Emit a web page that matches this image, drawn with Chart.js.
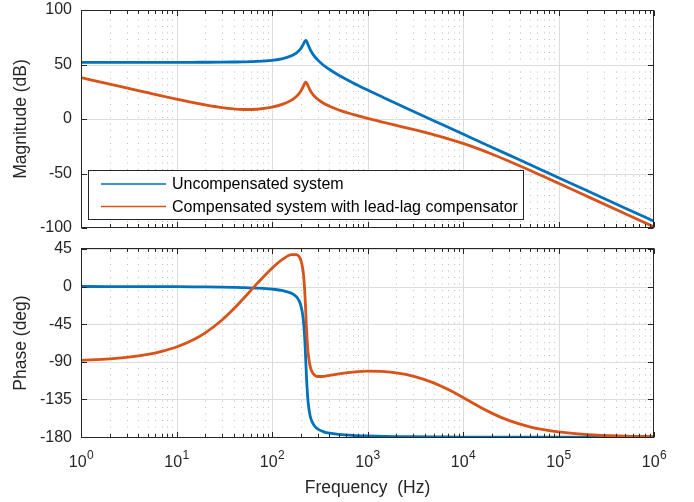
<!DOCTYPE html>
<html>
<head>
<meta charset="utf-8">
<script src="https://cdn.jsdelivr.net/npm/chart.js@4.4.1/dist/chart.umd.min.js"></script>
<style>
html,body{margin:0;padding:0;background:#fff;}
#wrap{position:relative;width:694px;height:502px;overflow:hidden;background:#fff;}
canvas{position:absolute;left:0;}
#magChart{top:0;}
#phaseChart{top:240px;}
</style>
</head>
<body>
<div id="wrap">
<canvas id="magChart" width="694" height="240"></canvas>
<canvas id="phaseChart" width="694" height="262"></canvas>
</div>
<script>
// ---------------- data ----------------
const freqHz = [1,2,3,5,7,10,15,20,30,40,50,70,100,130,160,180,190,200,210,215,220,223,226,229,232,236,240,250,260,280,300,350,400,500,700,1000,1500,2000,3000,5000,7000,10000,15000,20000,30000,50000,70000,100000,200000,500000,1000000];

const magUncompensated = [52.0,52.0,52.0,52.0,52.0,52.0,52.04,52.07,52.15,52.28,52.43,52.87,53.88,55.46,57.96,60.54,62.31,64.61,67.64,69.43,71.13,71.82,72.0,71.59,70.72,69.19,67.59,64.06,61.28,57.21,54.23,49.03,45.39,40.19,33.32,26.62,19.32,14.23,7.13,-1.78,-7.63,-13.83,-20.88,-25.88,-32.92,-41.79,-47.64,-53.84,-65.88,-81.79,-93.84];

const magCompensated = [38.0,32.0,28.5,24.1,21.2,18.2,15.0,12.9,10.4,9.2,8.7,8.95,10.8,13.6,17.3,20.7,22.8,25.5,28.9,30.8,32.7,33.5,33.75,33.4,32.7,31.3,29.8,26.6,24.1,20.6,18.2,14.2,11.65,8.3,4.3,0.6,-3.2,-5.86,-9.6,-14.6,-18.2,-22.4,-27.85,-32.1,-38.55,-47.07,-52.82,-58.97,-70.97,-86.86,-98.91];

const phaseUncompensated = [0,-0.05,-0.08,-0.13,-0.18,-0.25,-0.38,-0.51,-0.77,-1.04,-1.33,-1.96,-3.15,-4.91,-8.08,-12.29,-16.0,-22.2,-34.2,-45.0,-61.7,-75.0,-90,-104.8,-117.6,-130.9,-140.3,-153.7,-160.4,-167.0,-170.1,-173.7,-175.3,-176.7,-177.9,-178.6,-179.1,-179.3,-179.5,-179.7,-179.8,-179.9,-180,-180,-180,-180,-180,-180,-180,-180,-180];

const phaseCompensated = [-88.2,-86.4,-84.6,-81.1,-77.5,-72.3,-63.7,-55.4,-40.0,-26.4,-14.7,3.7,21.9,32.7,38.1,38.2,36.3,31.8,21.3,11.2,-4.8,-17.7,-32.3,-46.7,-59.2,-72.0,-81.5,-94.5,-101.0,-106.0,-107.5,-107.3,-106.2,-104.3,-102.3,-101.2,-101.6,-103.1,-107.0,-115.4,-123.1,-132.6,-144.0,-151.3,-159.9,-167.6,-171.1,-173.7,-176.9,-178.7,-179.4];

const seriesLabels = ['Uncompensated system','Compensated system with lead-lag compensator'];
const magTicks = [-100,-50,0,50,100];
const phaseTicks = [-180,-135,-90,-45,0,45];
const freqDecades = [1,10,100,1000,10000,100000,1000000];
const decadeExponents = ['0','1','2','3','4','5','6'];
const xAxisTitle = 'Frequency  (Hz)';
const magAxisTitle = 'Magnitude (dB)';
const phaseAxisTitle = 'Phase (deg)';

// ---------------- style ----------------
const FONT = '"Liberation Sans", Arial, Helvetica, sans-serif';
const AXC = '#262626';
const BLUE = '#0072BD';
const ORANGE = '#D95319';
const minorMult = [2,3,4,5,6,7,8,9];

function pts(ys){ return freqHz.map((f,i)=>({x:f,y:ys[i]})); }

function hline(ctx,x1,x2,y){ctx.beginPath();ctx.moveTo(x1,y);ctx.lineTo(x2,y);ctx.stroke();}
function vline(ctx,x,y1,y2){ctx.beginPath();ctx.moveTo(x,y1);ctx.lineTo(x,y2);ctx.stroke();}

const axesPlugin = {
  id:'matlabAxes',
  beforeDatasetsDraw(chart){
    const {ctx, chartArea:a, scales:{x,y}} = chart;
    ctx.save();
    ctx.beginPath(); ctx.rect(a.left,a.top,a.right-a.left,a.bottom-a.top); ctx.clip();
    // minor dotted grid
    ctx.strokeStyle = '#bdbdbd'; ctx.lineWidth = 1; ctx.setLineDash([1,5.5]);
    for (let k=0;k<freqDecades.length-1;k++){
      for (const m of minorMult){
        const px = Math.round(x.getPixelForValue(freqDecades[k]*m))+0.5;
        vline(ctx,px,a.top+3,a.bottom);
      }
    }
    ctx.setLineDash([]);
    // major grid
    ctx.strokeStyle = '#dcdcdc'; ctx.lineWidth = 1;
    for (const d of freqDecades){
      const px = Math.round(x.getPixelForValue(d))+0.5;
      vline(ctx,px,a.top,a.bottom);
    }
    for (const t of chart.options.scales.y.tickValues){
      const py = Math.round(y.getPixelForValue(t))+0.5;
      hline(ctx,a.left,a.right,py);
    }
    ctx.restore();
  },
  afterDatasetsDraw(chart){
    const {ctx, chartArea:a, scales:{x,y}} = chart;
    const L = Math.round(a.left)+0.5, R = Math.round(a.right)-0.5, T = Math.round(a.top)+0.5, B = Math.round(a.bottom)-0.5;
    ctx.save();
    ctx.strokeStyle = AXC; ctx.lineWidth = 1;
    ctx.strokeRect(L,T,R-L,B-T);
    const majLen = 5.5, minLen = 3.5;
    for (let k=0;k<freqDecades.length;k++){
      const px = Math.round(x.getPixelForValue(freqDecades[k]))+0.5;
      vline(ctx,px,B,B-majLen); vline(ctx,px,T,T+majLen);
      if (k<freqDecades.length-1){
        for (const m of minorMult){
          const mx = Math.round(x.getPixelForValue(freqDecades[k]*m))+0.5;
          vline(ctx,mx,B,B-minLen); vline(ctx,mx,T,T+minLen);
        }
      }
    }
    for (const t of chart.options.scales.y.tickValues){
      const py = Math.round(y.getPixelForValue(t))+0.5;
      hline(ctx,L,L+majLen,py); hline(ctx,R,R-majLen,py);
    }
    ctx.restore();
  }
};

const legendPlugin = {
  id:'bodeLegend',
  afterDraw(chart){
    if (!chart.options.plugins.bodeLegend || !chart.options.plugins.bodeLegend.show) return;
    const ctx = chart.ctx;
    ctx.save();
    ctx.fillStyle = '#fff';
    ctx.fillRect(88.5,170.5,435,49);
    ctx.strokeStyle = AXC; ctx.lineWidth = 1;
    ctx.strokeRect(88.5,170.5,435,49);
    [0,1].forEach((i,row)=>{
      const ds = chart.data.datasets[i];
      const yy = 184 + row*22.5;
      ctx.strokeStyle = ds.borderColor; ctx.lineWidth = 1.6;
      hline(ctx,101,166,yy);
      ctx.fillStyle = '#000';
      ctx.font = '16px '+FONT;
      ctx.textBaseline = 'middle';
      ctx.textAlign = 'left';
      ctx.fillText(ds.label,172,yy+1);
    });
    ctx.restore();
  }
};

const xLabelPlugin = {
  id:'decadeLabels',
  afterDraw(chart){
    if (!chart.options.plugins.decadeLabels || !chart.options.plugins.decadeLabels.show) return;
    const {ctx, scales:{x}} = chart;
    const baseY = chart.chartArea.bottom + 29;
    ctx.save();
    ctx.fillStyle = AXC;
    ctx.textBaseline = 'alphabetic';
    ctx.textAlign = 'left';
    freqDecades.forEach((d,k)=>{
      const px = x.getPixelForValue(d);
      ctx.font = '16px '+FONT;
      const w1 = ctx.measureText('10').width;
      ctx.font = '12px '+FONT;
      const w2 = ctx.measureText(decadeExponents[k]).width;
      const start = px - (w1+w2)/2;
      ctx.font = '16px '+FONT;
      ctx.fillText('10',start,baseY);
      ctx.font = '12px '+FONT;
      ctx.fillText(decadeExponents[k],start+w1+0.5,baseY-8);
    });
    ctx.restore();
  }
};

function makeDatasets(a,b){
  return [
    {label:seriesLabels[0], data:pts(a), borderColor:BLUE, backgroundColor:BLUE, borderWidth:2.8, pointRadius:0, fill:false, cubicInterpolationMode:'monotone', order:2},
    {label:seriesLabels[1], data:pts(b), borderColor:ORANGE, backgroundColor:ORANGE, borderWidth:2.8, pointRadius:0, fill:false, cubicInterpolationMode:'monotone', order:1}
  ];
}

function yScale(min,max,ticks,title){
  return {
    type:'linear', min:min, max:max, tickValues:ticks,
    afterBuildTicks(s){ s.ticks = ticks.map(v=>({value:v})); },
    afterFit(s){ s.width = 81; s.paddingTop = 0; s.paddingBottom = 0; },
    grid:{display:false, drawTicks:false},
    border:{display:false},
    ticks:{color:AXC, font:{family:FONT, size:16}, padding:9, callback:(v)=>String(v)},
    title:{display:true, text:title, color:AXC, font:{family:FONT, size:17.5}, padding:{top:11,bottom:0}}
  };
}

const commonPlugins = {legend:{display:false}, tooltip:{enabled:false}};

new Chart(document.getElementById('magChart'), {
  type:'line',
  data:{datasets:makeDatasets(magUncompensated, magCompensated)},
  options:{
    responsive:false, animation:false, events:[],
    layout:{padding:{left:0,right:40,top:10,bottom:12}},
    scales:{
      x:{type:'logarithmic', min:1, max:1000000, display:false},
      y:yScale(-100,100,magTicks,magAxisTitle)
    },
    plugins:Object.assign({bodeLegend:{show:true}}, commonPlugins)
  },
  plugins:[axesPlugin, legendPlugin]
});

new Chart(document.getElementById('phaseChart'), {
  type:'line',
  data:{datasets:makeDatasets(phaseUncompensated, phaseCompensated)},
  options:{
    responsive:false, animation:false, events:[],
    layout:{padding:{left:0,right:40,top:8,bottom:0}},
    scales:{
      x:{type:'logarithmic', min:1, max:1000000, display:true,
         afterFit(s){ s.height = 64; s.paddingLeft = 0; s.paddingRight = 0; },
         grid:{display:false, drawTicks:false}, border:{display:false},
         ticks:{display:false},
         title:{display:true, text:xAxisTitle, color:AXC, font:{family:FONT, size:17.5}, padding:{top:0,bottom:3}}},
      y:yScale(-181,46,phaseTicks,phaseAxisTitle)
    },
    plugins:Object.assign({decadeLabels:{show:true}}, commonPlugins)
  },
  plugins:[axesPlugin, xLabelPlugin]
});
</script>
</body>
</html>
